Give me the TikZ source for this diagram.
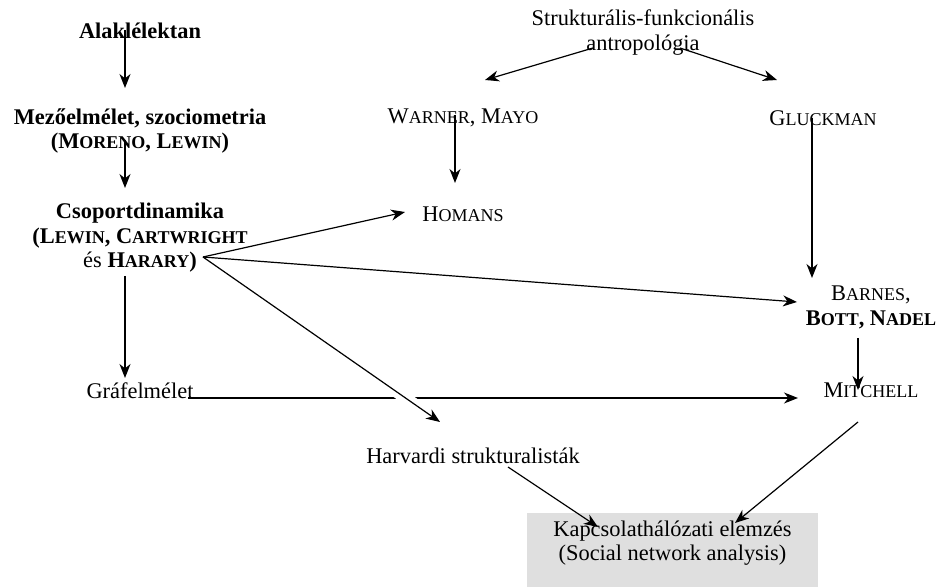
\documentclass[tikz,border=0pt]{standalone}
\usepackage{fontspec}
\setmainfont{Liberation Serif}
\usetikzlibrary{calc, arrows.meta}
\newcommand{\fsc}[2]{#1{\fontsize{9}{12}\selectfont #2}}

\begin{document}
\begin{tikzpicture}[x=0.5pt, y=-0.5pt, line width=0.6pt,
        >={Stealth[length=7pt, width=5.5pt, inset=2.2pt]},
        every node/.style={inner sep=0pt, align=center, font=\fontsize{11.2}{12.3}\selectfont}]
        \useasboundingbox (0,0) rectangle (937,587);

        % left column
        \node (alak) at (140,30.5) {\textbf{Alaklélektan}};
        \node (mezo) at (140,131) {\textbf{Mezőelmélet, szociometria}\\\textbf{(\fsc{M}{ORENO}, \fsc{L}{EWIN})}};
        \node (csop) at (140,238) {\textbf{Csoportdinamika}\\\textbf{(\fsc{L}{EWIN}, \fsc{C}{ARTWRIGHT}}\\és \textbf{\fsc{H}{ARARY})}};
        \node (graf) at (140,390.5) {Gráfelmélet};
        \node (harv) at (473,455.5) {Harvardi strukturalisták};

        % right part
        \node (sfa) at (643,32.5) {Strukturális-funkcionális\\antropológia};
        \node (warner) at (463,118) {\fsc{W}{ARNER}, \fsc{M}{AYO}};
        \node (homans) at (463,214.5) {\fsc{H}{OMANS}};
        \node (gluck) at (823,118) {\fsc{G}{LUCKMAN}};
        \node (barnes) at (871,307.5) {\fsc{B}{ARNES},\\\textbf{\fsc{B}{OTT}, \fsc{N}{ADEL}}};
        \node (mitchell) at (871,390.5) {\fsc{M}{ITCHELL}};
        \node[fill=gray!25, anchor=north, minimum width=145.5pt, inner ysep=4pt, text depth=12pt] (kapcs) at (672.5,512)
            {Kapcsolathálózati elemzés\\(Social network analysis)};

        \draw[->] ($(alak)+(-15,0)$) -- ($(mezo)+(-15,-43)$);
        \draw[->] ($(mezo)+(-15,9)$) -- ($(csop)+(-15,-50)$);
        \draw[->] ($(csop)+(-15,38)$) -- ($(graf)+(-15,-12.5)$);

        \draw[->] ($(graf)+(48,7.5)$) -- ($(mitchell)+(-73,7.5)$);
        \draw[->, preaction={draw=white, -, line width=6pt, shorten <=108pt, shorten >=12pt}]
            ($(csop)+(63,19)$) -- ($(harv)+(-33,-33.5)$);
        \draw[->] ($(csop)+(63,19)$) -- ($(homans)+(-58,-2.5)$);
        \draw[->] ($(csop)+(63,19)$) -- ($(barnes)+(-74,-5.5)$);

        \draw[->] ($(sfa)+(-50,15.5)$) -- ($(warner)+(22,-38)$);
        \draw[->] ($(sfa)+(37,15.5)$) -- ($(gluck)+(-46,-38)$);
        \draw[->] ($(warner)+(-8,-3)$) -- ($(homans)+(-8,-31.5)$);
        \draw[->] ($(gluck)+(-11,0)$) -- ($(barnes)+(-59,-29.5)$);
        \draw[->] ($(barnes)+(-13,30.5)$) -- ($(mitchell)+(-13,-0.5)$);

        \draw[->] ($(mitchell)+(-13,31.5)$) -- ($(kapcs.north)+(62.5,11)$);
        \draw[->] ($(harv)+(35,11.5)$) -- ($(kapcs.north)+(-74.5,15)$);
\end{tikzpicture}
\end{document}
